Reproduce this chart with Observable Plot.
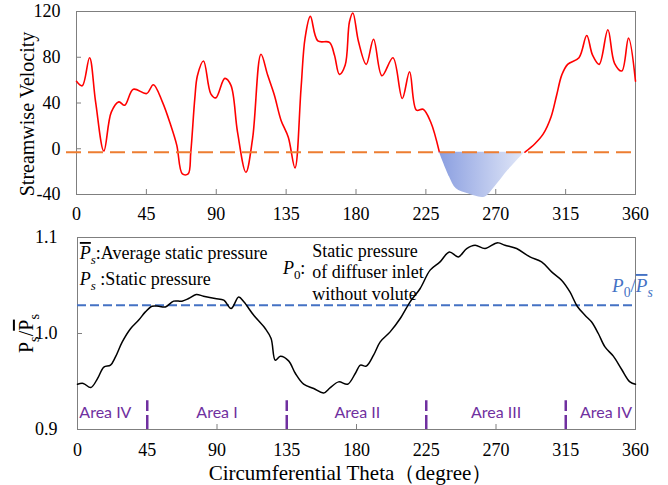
<!DOCTYPE html>
<html><head><meta charset="utf-8">
<script src="https://cdn.jsdelivr.net/npm/d3@7"></script>
<script src="https://cdn.jsdelivr.net/npm/@observablehq/plot@0.6"></script>
<style>body{margin:0;background:#fff;} #chart{width:668px;} #chart svg text{font-family:"Liberation Serif","Times New Roman",serif;}</style>
</head><body><div id="chart"></div>
<script>
// ---------- data ----------
const thetaTicks = [0,45,90,135,180,225,270,315,360];
const velTicks = [-40,0,40,80,120];
const presTicks = [0.9,1.0,1.1];

const velTheta = [0,3.7,8.4,12.3,17.6,22.4,27.3,31,36.6,45.2,49.5,55.3,60.7,64.6,68.2,71.9,73.6,76.2,77.9,81.8,86.5,89.7,95.5,99.4,103.7,109.1,113.4,118.8,123.1,127.4,131.7,136.4,140.7,144.6,147.2,150.6,155.4,162.9,166.1,169.3,173,175.8,178,181.6,186.6,191.3,196.7,203.8,209.8,214.5,218.9,223.2,228.1,233.7,240.3,244.6,252.2,262.9,269.4,278,288.8,295.2,300.6,305.6,309.2,312.5,316.3,323.6,328.6,332.3,336.6,342.2,346.5,351.2,355.5,360];
const velValue = [59,55,79.6,41,-2,32,41,38,52,48.3,56,41,20.5,3,-22,-22,-3,44,64,76.7,48,44.5,61.5,55.6,14.6,-20.6,8.8,82.6,64.4,47,25,10,-16.7,52.7,96.7,115.7,94.3,93,82,65,73,111,118.7,93.7,73.8,95.8,63.8,79.6,44,67.3,33.7,34.5,23.4,-3,-24.9,-35,-39.3,-42.3,-33.5,-18.9,-3,4.4,13,27.8,46.8,64.4,73.8,79.6,99,82,73.8,104,74.7,68,96.7,59];

// reversed-flow (shaded) region
const sepTheta = [233.7,240.3,244.6,252.2,262.9,269.4,278,288.8];
const sepValue = [-3,-24.9,-35,-39.3,-42.3,-33.5,-18.9,-3];
const velRef = -3;

const presTheta = [0,3.7,8.6,12.9,17,21.3,24.5,28.8,34.2,39.5,43.8,48.1,52.4,56.7,62,67.4,71.7,76.6,81.3,88.8,94.4,99.1,104,107.3,113.7,121.2,124.9,127.6,130.9,136.2,140.6,145.9,152.4,158.8,163.1,168.5,174.3,179.2,182.5,186.3,191,195.3,201.7,208.2,214.6,221.1,227.5,233.9,239.9,245.7,251.1,256.5,262.9,269.4,271.5,275.8,283.3,291.9,299.4,305.9,312.3,317.7,322.4,327.4,331.7,336,340.3,345.7,351.1,356.4,360];
const presValue = [0.9472,0.948,0.9437,0.953,0.965,0.967,0.9756,0.991,1.005,1.014,1.0225,1.0284,1.0284,1.0277,1.0337,1.0337,1.0364,1.0406,1.0389,1.0364,1.0347,1.026,1.038,1.033,1.019,1.005,0.9948,0.9722,0.9764,0.9715,0.9583,0.9472,0.9427,0.9381,0.9437,0.9496,0.9472,0.9583,0.967,0.966,0.9774,0.9913,1.0017,1.0156,1.033,1.0469,1.066,1.0746,1.085,1.0798,1.0885,1.092,1.0885,1.0938,1.0944,1.092,1.0885,1.0798,1.0746,1.0642,1.0555,1.0433,1.0284,1.019,1.012,1.0,0.986,0.9764,0.9625,0.9496,0.9472];
const p0Ratio = 1.0295;

const areaNames = ["Area IV","Area I","Area II","Area III","Area IV"];
const areaTheta = [18,90,180.5,270,341];
const areaLabelY = 0.917;
const areaBounds = [45,135,225,315];
const areaBoundTop = 0.93;

// annotation texts (keys replaced by rich text after rendering)
const noteKeys = ["#psbar","#ps","#p0","Static pressure","of diffuser inlet","without volute"];
const noteTheta = [1.5,1.5,132.5,151.4,151.4,151.4];
const noteValue = [1.0836,1.0566,1.068,1.0857,1.0633,1.041];
const refLabelTheta = 344.9, refLabelValue = 1.0496;

// ---------- build ----------
const vel = velTheta.map((t,i)=>({t, v: velValue[i]}));
const sep = sepTheta.map((t,i)=>({t, v: sepValue[i]}));
const pres = presTheta.map((t,i)=>({t, v: presValue[i]}));
const notes = noteKeys.map((k,i)=>({k, t: noteTheta[i], v: noteValue[i]}));
const areas = areaNames.map((n,i)=>({n, t: areaTheta[i]}));
const sepStart = sepTheta[0], sepEnd = sepTheta[sepTheta.length-1];

const NS = "http://www.w3.org/2000/svg";
function gradientDefs() {
  const defs = document.createElementNS(NS, "defs");
  defs.innerHTML = '<linearGradient id="sepGrad" x1="0" x2="1" y1="0" y2="0"><stop offset="0" stop-color="#8a9ee0"/><stop offset="1" stop-color="#e2e8f8"/></linearGradient>';
  return defs;
}

const SERIF = "Liberation Serif";
const baseStyle = {fontFamily: SERIF, fontSize: "18px", color: "black", background: "white", overflow: "visible"};

const velPlot = Plot.plot({
  width: 668, height: 225,
  marginLeft: 76, marginRight: 33, marginTop: 11, marginBottom: 31,
  style: baseStyle,
  x: {domain: [0,360]},
  y: {domain: [-40,120]},
  marks: [
    gradientDefs,
    Plot.frame({stroke: "#7f7f7f"}),
    Plot.axisX({ticks: thetaTicks, tickSize: -5, tickPadding: 18, stroke: "#7f7f7f", fill: "black", label: null, tickFormat: d => String(d), fontFamily: SERIF}),
    Plot.axisY({ticks: velTicks, tickSize: -5, tickPadding: 21, stroke: "#7f7f7f", fill: "black", label: null, tickFormat: d => String(d), fontFamily: SERIF}),
    Plot.line(vel, {x: "t", y: "v", filter: d => d.t <= sepStart || d.t >= sepEnd, z: d => d.t <= sepStart ? 0 : 1, stroke: "#ff0000", strokeWidth: 1.6, curve: "catmull-rom"}),
    Plot.areaY(sep, {x: "t", y1: velRef, y2: "v", fill: "url(#sepGrad)", curve: "catmull-rom"}),
    Plot.ruleY([velRef], {stroke: "#ed7d31", strokeWidth: 2, strokeDasharray: "15,7", insetLeft: -10}),
    Plot.text(["Streamwise Velocity"], {text: d => d, frameAnchor: "left", textAnchor: "middle", lineAnchor: "middle", rotate: -90, dx: -49, dy: 11, fontSize: 20, fontFamily: SERIF})
  ]
});

const presPlot = Plot.plot({
  width: 668, height: 260,
  marginLeft: 77, marginRight: 33, marginTop: 12, marginBottom: 56,
  style: baseStyle,
  x: {domain: [0,360]},
  y: {domain: [0.9,1.1]},
  marks: [
    Plot.frame({stroke: "#7f7f7f"}),
    Plot.axisX({ticks: thetaTicks, tickSize: -5, tickPadding: 19, stroke: "#7f7f7f", fill: "black", label: null, tickFormat: d => String(d), fontFamily: SERIF}),
    Plot.axisY({ticks: presTicks, tickSize: -5, tickPadding: 25, stroke: "#7f7f7f", fill: "black", label: null, tickFormat: d3.format(".1f"), fontFamily: SERIF}),
    Plot.ruleY([p0Ratio], {stroke: "#4472c4", strokeWidth: 2, strokeDasharray: "9,4"}),
    Plot.line(pres, {x: "t", y: "v", stroke: "#000", strokeWidth: 1.5, curve: "catmull-rom"}),
    Plot.ruleX(areaBounds, {x: d => d, y1: 0.9, y2: areaBoundTop, stroke: "#7030a0", strokeWidth: 2.5, strokeDasharray: "14,4"}),
    Plot.text(areas, {x: "t", y: areaLabelY, text: "n", fill: "#7030a0", fontFamily: "Lato", fontSize: 16}),
    Plot.text(notes, {x: "t", y: "v", text: "k", textAnchor: "start", fontSize: 18, fontFamily: SERIF}),
    Plot.text(["#ref"], {x: refLabelTheta, y: refLabelValue, text: d => d, textAnchor: "start", fill: "#4472c4", fontSize: 19, fontFamily: SERIF}),
    Plot.text(["#ylab"], {text: d => d, frameAnchor: "left", textAnchor: "middle", lineAnchor: "middle", rotate: -90, dx: -51, fontSize: 20, fontFamily: SERIF}),
    Plot.text(["Circumferential Theta（degree）"], {text: d => d, frameAnchor: "bottom", lineAnchor: "middle", dy: 44, dx: -6, fontSize: 21, fontFamily: SERIF})
  ]
});

function richify(svg, key, parts, size) {
  svg.querySelectorAll("text").forEach(t => {
    if (t.textContent !== key) return;
    t.textContent = "";
    let shift = 0;
    for (const p of parts) {
      const ts = document.createElementNS(NS, "tspan");
      ts.textContent = p.t;
      const target = p.sub ? size * 0.28 : 0;
      const dy = target - shift;
      if (dy) ts.setAttribute("dy", dy);
      shift = target;
      if (p.sub) ts.setAttribute("font-size", size * 0.72);
      if (p.i) ts.setAttribute("font-style", "italic");
      if (p.bar) ts.setAttribute("text-decoration", "overline");
      t.appendChild(ts);
    }
  });
}
richify(presPlot, "#psbar", [{t:"P", i:1, bar:1},{t:"s", i:1, sub:1},{t:":Average static pressure"}], 18);
richify(presPlot, "#ps", [{t:"P", i:1},{t:"s", i:1, sub:1},{t:" :Static pressure"}], 18);
richify(presPlot, "#p0", [{t:"P", i:1},{t:"0", sub:1},{t:":"}], 18);
richify(presPlot, "#ref", [{t:"P", i:1},{t:"0", sub:1},{t:"/"},{t:"P", i:1, bar:1},{t:"s", i:1, sub:1}], 19);
richify(presPlot, "#ylab", [{t:"P"},{t:"s", sub:1},{t:"/"},{t:"P", bar:1},{t:"s", sub:1}], 20);

// area labels use a sans font (inline style wins over the page's serif rule)
presPlot.querySelectorAll("text").forEach(t => {
  if (areaNames.includes(t.textContent)) t.style.fontFamily = "Lato, 'Open Sans', sans-serif";
});

const host = document.getElementById("chart");
host.appendChild(velPlot);
host.appendChild(presPlot);
</script>
</body></html>
